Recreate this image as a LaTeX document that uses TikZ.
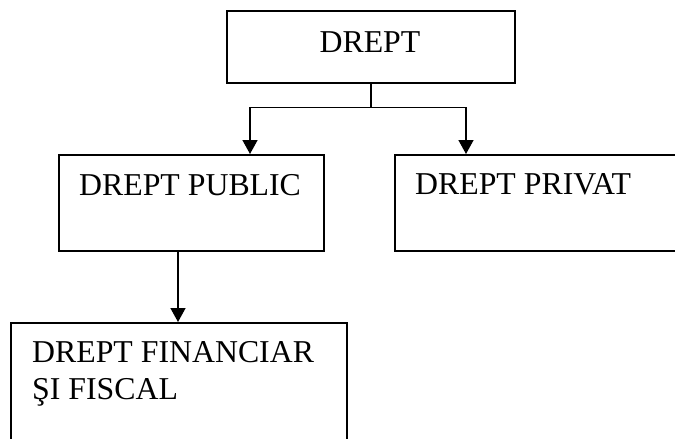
\documentclass[tikz,border=0pt]{standalone}
\usepackage{fontspec}
\setmainfont{Liberation Serif}
\usetikzlibrary{arrows.meta}
\begin{document}
\begin{tikzpicture}[x=1pt,y=-1pt,
  box/.style={draw=black, line width=1.6pt, rectangle, inner sep=0pt, anchor=north west},
  lbl/.style={inner sep=0pt, font=\fontsize{31.8}{37.5}\selectfont, align=left},
  link/.style={draw=black, line width=1.5pt},
  arrowlink/.style={link, -{Triangle[width=15pt,length=14pt]}}]
  \useasboundingbox (0,0) rectangle (675,439);
  \clip (0,0) rectangle (675,439);
  \fill[white] (0,0) rectangle (675,439);

  % boxes
  \node[box, minimum width=288pt, minimum height=72pt] (drept) at (226,10) {};
  \node[box, minimum width=265pt, minimum height=96pt] (public) at (58,154) {};
  \node[box, minimum width=330pt, minimum height=96pt] (privat) at (394,154) {};
  \node[box, minimum width=336pt, minimum height=160pt] (fin) at (10,322) {};

  % labels
  \node[lbl, anchor=base] (tdrept) at (370,52) {DREPT};
  \node[lbl, anchor=base west] (tpublic) at (79,195) {DREPT PUBLIC};
  \node[lbl, anchor=base west] (tprivat) at (415,194) {DREPT PRIVAT};
  \node[lbl, anchor=base west] (tfin1) at (32,362) {DREPT FINANCIAR};
  \node[lbl, anchor=base west] (tfin2) at (32,399) {ŞI FISCAL};

  % connectors
  \coordinate (split) at ([yshift=-24pt]drept.south);
  \draw[link] (drept.south) -- (split);
  \draw[arrowlink] (split) -| ([xshift=192pt]public.north west);
  \draw[arrowlink] (split) -| ([xshift=72pt]privat.north west);
  \draw[arrowlink] ([xshift=120pt]public.south west) -- ([xshift=168pt]fin.north west);
\end{tikzpicture}
\end{document}
